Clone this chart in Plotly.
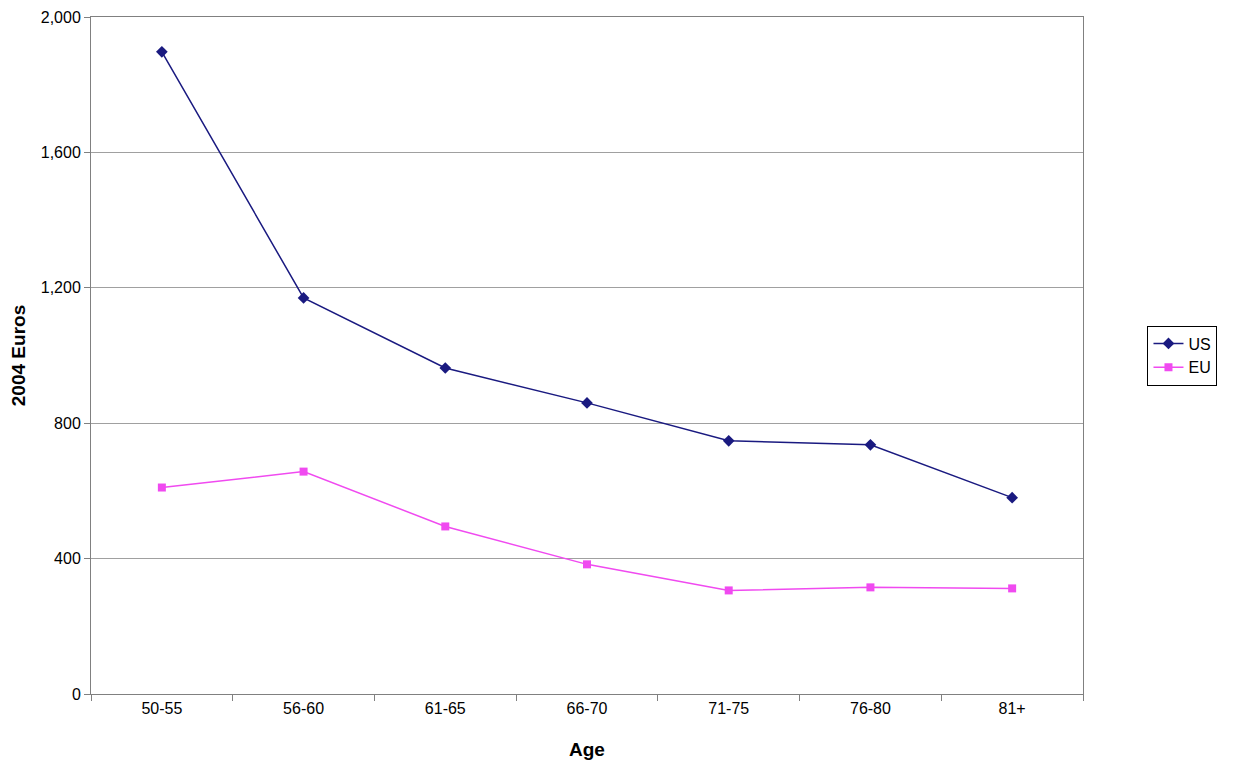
import plotly.graph_objects as go

ages = ["50-55", "56-60", "61-65", "66-70", "71-75", "76-80", "81+"]
us = [1897, 1170, 963, 860, 748, 736, 580]
eu = [610, 657, 495, 383, 306, 315, 312]

fig = go.Figure()
fig.add_trace(go.Scatter(
    x=ages, y=us, name="US", mode="lines+markers",
    line=dict(color="#1A1A80", width=1.5),
    marker=dict(symbol="diamond", size=9, color="#1A1A80"),
))
fig.add_trace(go.Scatter(
    x=ages, y=eu, name="EU", mode="lines+markers",
    line=dict(color="#F04AF0", width=1.5),
    marker=dict(symbol="square", size=8, color="#F04AF0"),
))

fig.update_layout(
    width=1231, height=756,
    margin=dict(l=83, r=156, t=9, b=70, autoexpand=False),
    paper_bgcolor="white", plot_bgcolor="white",
    font=dict(family="Liberation Sans, Arial", size=16, color="black"),
    xaxis=dict(
        title=dict(text="<b>Age</b>", standoff=26),
        type="category", range=[-0.5, 6.5], tickson="boundaries",
        ticks="outside", ticklen=6, tickcolor="#808080",
        showgrid=False, showline=True, linecolor="#808080", mirror=True,
        automargin=False,
    ),
    yaxis=dict(
        title=dict(text="<b>2004 Euros</b>", standoff=10),
        range=[0, 2000], tickvals=[0, 400, 800, 1200, 1600, 2000],
        tickformat=",", ticks="outside", ticklen=6, tickcolor="#808080",
        gridcolor="#A0A0A0", showline=True, linecolor="#808080", mirror=True,
        zeroline=False, automargin=False, ticklabeloverflow="allow",
    ),
    legend=dict(
        x=1.065, y=0.5, xanchor="left", yanchor="middle",
        bordercolor="black", borderwidth=1, font=dict(size=16),
    ),
)

fig.write_html("out.html")
